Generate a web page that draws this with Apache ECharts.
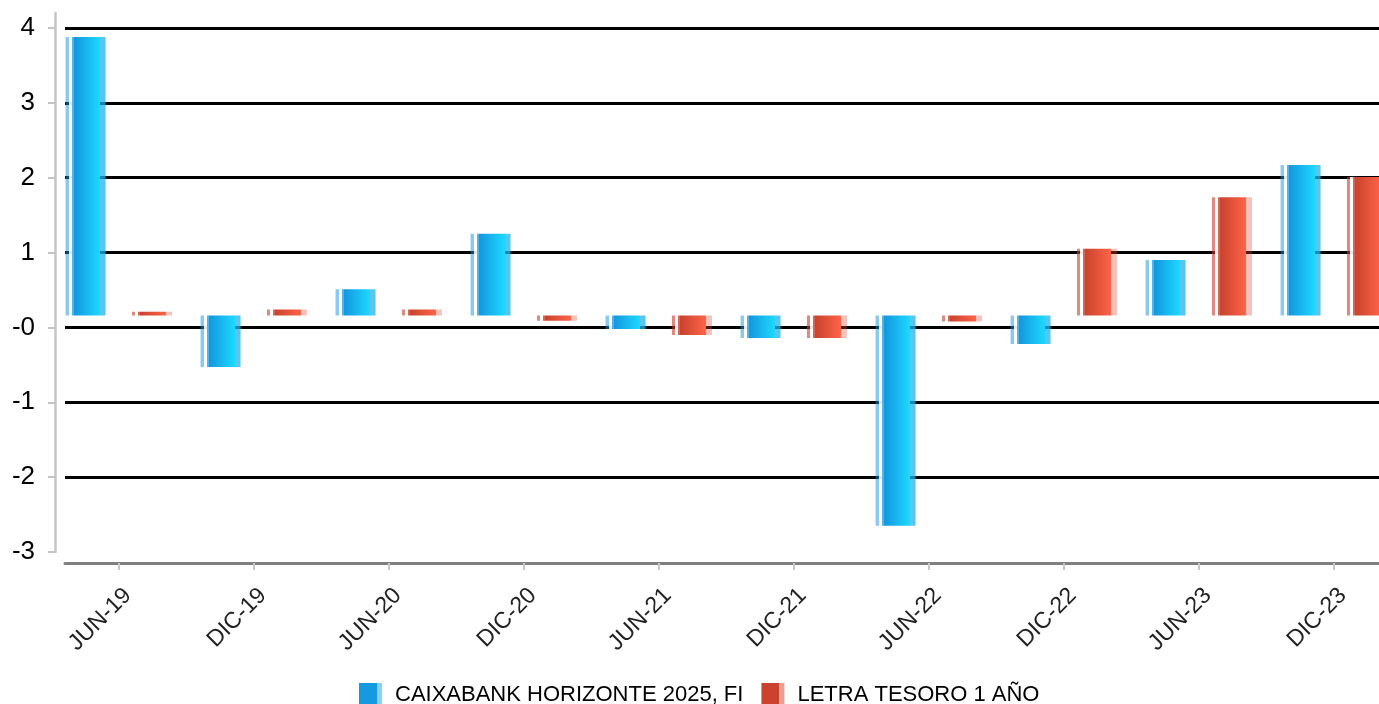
<!DOCTYPE html>
<html>
<head>
<meta charset="utf-8">
<script src="https://cdn.jsdelivr.net/npm/echarts@6/dist/echarts.min.js"></script>
<style>
html,body{margin:0;padding:0;background:#fff;}
#chart{width:1379px;height:704px;}
</style>
</head>
<body>
<div id="chart"></div>
<script>
// Categories (half-yearly)
var categories = ['JUN-19','DIC-19','JUN-20','DIC-20','JUN-21','DIC-21','JUN-22','DIC-22','JUN-23','DIC-23'];
// Series values (read relative to the bars' baseline)
var fundValues = [3.72, -0.69, 0.35, 1.09, -0.18, -0.30, -2.81, -0.38, 0.74, 2.01];
var letraValues = [0.05, 0.08, 0.08, -0.07, -0.26, -0.30, -0.08, 0.89, 1.58, 1.85];
// Y tick labels as printed (bottom to top)
var yTickLabels = ['-3','-2','-1','-0','1','2','3','4'];
var seriesNames = ['CAIXABANK HORIZONTE 2025, FI', 'LETRA TESORO 1 AÑO'];

function barGrad(stripe, light, dark, bright, edge) {
  return new echarts.graphic.LinearGradient(0, 0, 1, 0, [
    {offset: 0, color: stripe}, {offset: 0.08, color: stripe},
    {offset: 0.08, color: 'rgba(255,255,255,0.9)'}, {offset: 0.15, color: 'rgba(255,255,255,0.9)'},
    {offset: 0.15, color: light}, {offset: 0.21, color: light},
    {offset: 0.21, color: dark}, {offset: 0.86, color: bright},
    {offset: 0.86, color: edge}, {offset: 1, color: edge}
  ]);
}
var blueGrad = barGrad('rgba(20,150,222,0.5)', '#4fb4e8', '#1496de', '#1cd9ff', 'rgba(30,180,235,0.75)');
var redGrad = barGrad('rgba(200,60,40,0.6)', '#d86552', '#c9432e', '#ff6448', 'rgba(220,80,60,0.35)');

function iconGrad(main, edge) {
  return new echarts.graphic.LinearGradient(0, 0, 1, 0, [
    {offset: 0, color: main}, {offset: 0.78, color: main},
    {offset: 0.78, color: edge}, {offset: 1, color: edge}
  ]);
}

var FONT = 'Liberation Sans';
var chart = echarts.init(document.getElementById('chart'));
chart.setOption({
  animation: false,
  backgroundColor: '#fff',
  grid: [
    {left: 51.25, width: 1350, top: 13, bottom: 152, containLabel: false, outerBoundsMode: 'none'},
    {left: 65, right: 0, top: 28, bottom: 152, containLabel: false, outerBoundsMode: 'none'},
    {left: 60.25, width: 1350, top: 13, bottom: 152, containLabel: false, outerBoundsMode: 'none'}
  ],
  legend: {
    left: 359, top: 683, padding: 0,
    icon: 'rect',
    itemWidth: 23, itemHeight: 24, itemGap: 18,
    textStyle: {fontFamily: FONT, fontSize: 22, color: '#000', padding: [0, 0, 0, 8]},
    data: [
      {name: seriesNames[0], itemStyle: {color: iconGrad('#1599e0', '#8ccff0')}},
      {name: seriesNames[1], itemStyle: {color: iconGrad('#c9432e', '#e8a194')}}
    ]
  },
  xAxis: [
    {
      gridIndex: 0, type: 'category', data: categories, offset: 11,
      axisLine: {show: false, onZero: false},
      axisTick: {show: true, alignWithLabel: true, length: 7, lineStyle: {color: '#c8c8c8', width: 2}},
      axisLabel: {show: false}, splitLine: {show: false}
    },
    {
      gridIndex: 1, type: 'category', data: categories, offset: 11,
      axisLine: {show: true, onZero: false, lineStyle: {color: '#808080', width: 3}},
      axisTick: {show: false}, axisLabel: {show: false}, splitLine: {show: false}
    },
    {
      gridIndex: 2, type: 'category', data: categories, offset: 11,
      axisLine: {show: false, onZero: false}, axisTick: {show: false}, splitLine: {show: false},
      axisLabel: {show: true, interval: 0, rotate: 45, margin: 29,
        fontFamily: FONT, fontSize: 23, color: '#222'}
    }
  ],
  yAxis: [
    {
      gridIndex: 0, type: 'value', min: -3.16, max: 4.04, offset: -3.75,
      axisLine: {show: true, lineStyle: {color: '#c4c4c4', width: 2.5}},
      axisTick: {show: false}, axisLabel: {show: false}, splitLine: {show: false}
    },
    {
      gridIndex: 1, type: 'category', data: yTickLabels, boundaryGap: false, offset: 10,
      axisLine: {show: false},
      axisTick: {show: true, length: 7, lineStyle: {color: '#c4c4c4', width: 2}},
      axisLabel: {show: true, margin: 20, fontFamily: FONT, fontSize: 26, color: '#000'},
      splitLine: {show: true, interval: function (i) { return i !== 0; },
        lineStyle: {color: '#000', width: 3}}
    },
    {
      gridIndex: 2, type: 'value', min: -3.16, max: 4.04, show: false
    }
  ],
  series: [
    {
      name: seriesNames[0], type: 'bar', xAxisIndex: 0, yAxisIndex: 0,
      data: fundValues, barWidth: 40, barGap: '66%',
      itemStyle: {color: blueGrad}, z: 3
    },
    {
      name: seriesNames[1], type: 'bar', xAxisIndex: 0, yAxisIndex: 0,
      data: letraValues, barWidth: 40, barGap: '66%',
      itemStyle: {color: redGrad}, z: 3
    }
  ]
});
</script>
</body>
</html>
